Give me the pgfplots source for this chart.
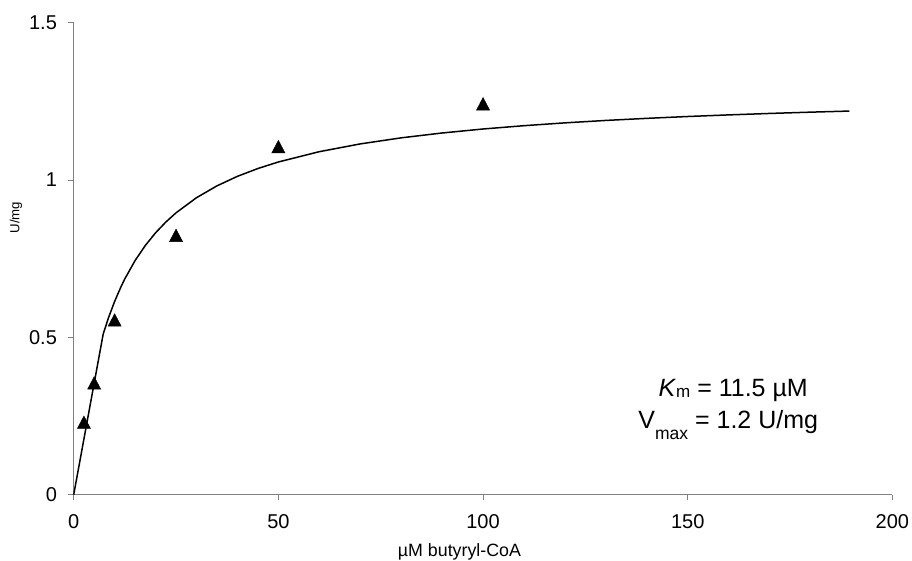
\documentclass[border=0pt]{standalone}
\usepackage{pgfplots}
\pgfplotsset{compat=1.18}
\usepackage{fontspec}
\setmainfont{Liberation Sans}

% Michaelis-Menten fit and measured activities
\pgfplotstableread{
x     y
0     0
7.2   0.5103
8.5   0.5623
10    0.6143
11.5  0.6593
12.5  0.6862
15    0.7442
17.5  0.7921
20    0.8323
22.5  0.8664
25    0.8958
30    0.9439
35    0.9815
40    1.0118
45    1.0366
50    1.0574
60    1.0901
70    1.1148
80    1.1341
90    1.1495
100   1.1622
110   1.1727
120   1.1817
130   1.1894
140   1.1960
150   1.2019
160   1.2070
170   1.2116
180   1.2157
189.5 1.2192
}\fitcurve

\pgfplotstableread{
x    y
2.5  0.231
5    0.356
10   0.556
25   0.825
50   1.107
100  1.243
}\measured

\begin{document}
\begin{tikzpicture}[x=1pt,y=1pt]
\path[use as bounding box] (0,0) rectangle (912,560);
\begin{axis}[
  at={(73.7pt,65.3pt)}, anchor=south west,
  scale only axis, width=818.7pt, height=472pt,
  xmin=0, xmax=200, ymin=0, ymax=1.5,
  axis lines=left,
  axis line style={draw=gray, line width=1pt, -},
  tick style={draw=gray, line width=1pt},
  tick align=outside,
  major tick length=5.6pt,
  xtick={0,50,100,150,200},
  xticklabels={0,50,100,150,200},
  ytick={0,0.5,1,1.5},
  yticklabels={0,0.5,1,1.5},
  tick label style={font=\fontsize{20}{24}\selectfont, inner sep=0pt},
  xticklabel style={anchor=north, yshift=-14pt},
  yticklabel style={anchor=east, xshift=-11pt},
  clip=false,
  xlabel={µM butyryl-CoA},
  ylabel={U/mg},
  every axis x label/.style={at={(rel axis cs:0.4712,0)}, anchor=base,
    yshift=-62pt, font=\fontsize{17.8}{20}\selectfont},
  every axis y label/.style={at={(rel axis cs:0,0.5873)}, xshift=-57.7pt,
    anchor=center, rotate=90, font=\fontsize{13.2}{15}\selectfont},
]
\addplot[black, line width=1.5pt, line join=round, mark=none] table[x=x,y=y] {\fitcurve};
\addplot[only marks, mark=triangle*, mark size=7.6pt,
  mark options={fill=black, draw=black, yscale=1.1, yshift=-2.1pt}]
  table[x=x,y=y] {\measured};
\node[anchor=base, font=\fontsize{25}{30}\selectfont] at (axis cs:161.1,0.3123)
  {\textit{K}\raisebox{-1pt}{\fontsize{17}{20}\selectfont m} = 11.5 µM};
\node[anchor=base, font=\fontsize{25}{30}\selectfont] at (axis cs:159.9,0.2101)
  {V\raisebox{-11pt}{\fontsize{17.5}{20}\selectfont max} = 1.2 U/mg};
\end{axis}
\end{tikzpicture}
\end{document}
